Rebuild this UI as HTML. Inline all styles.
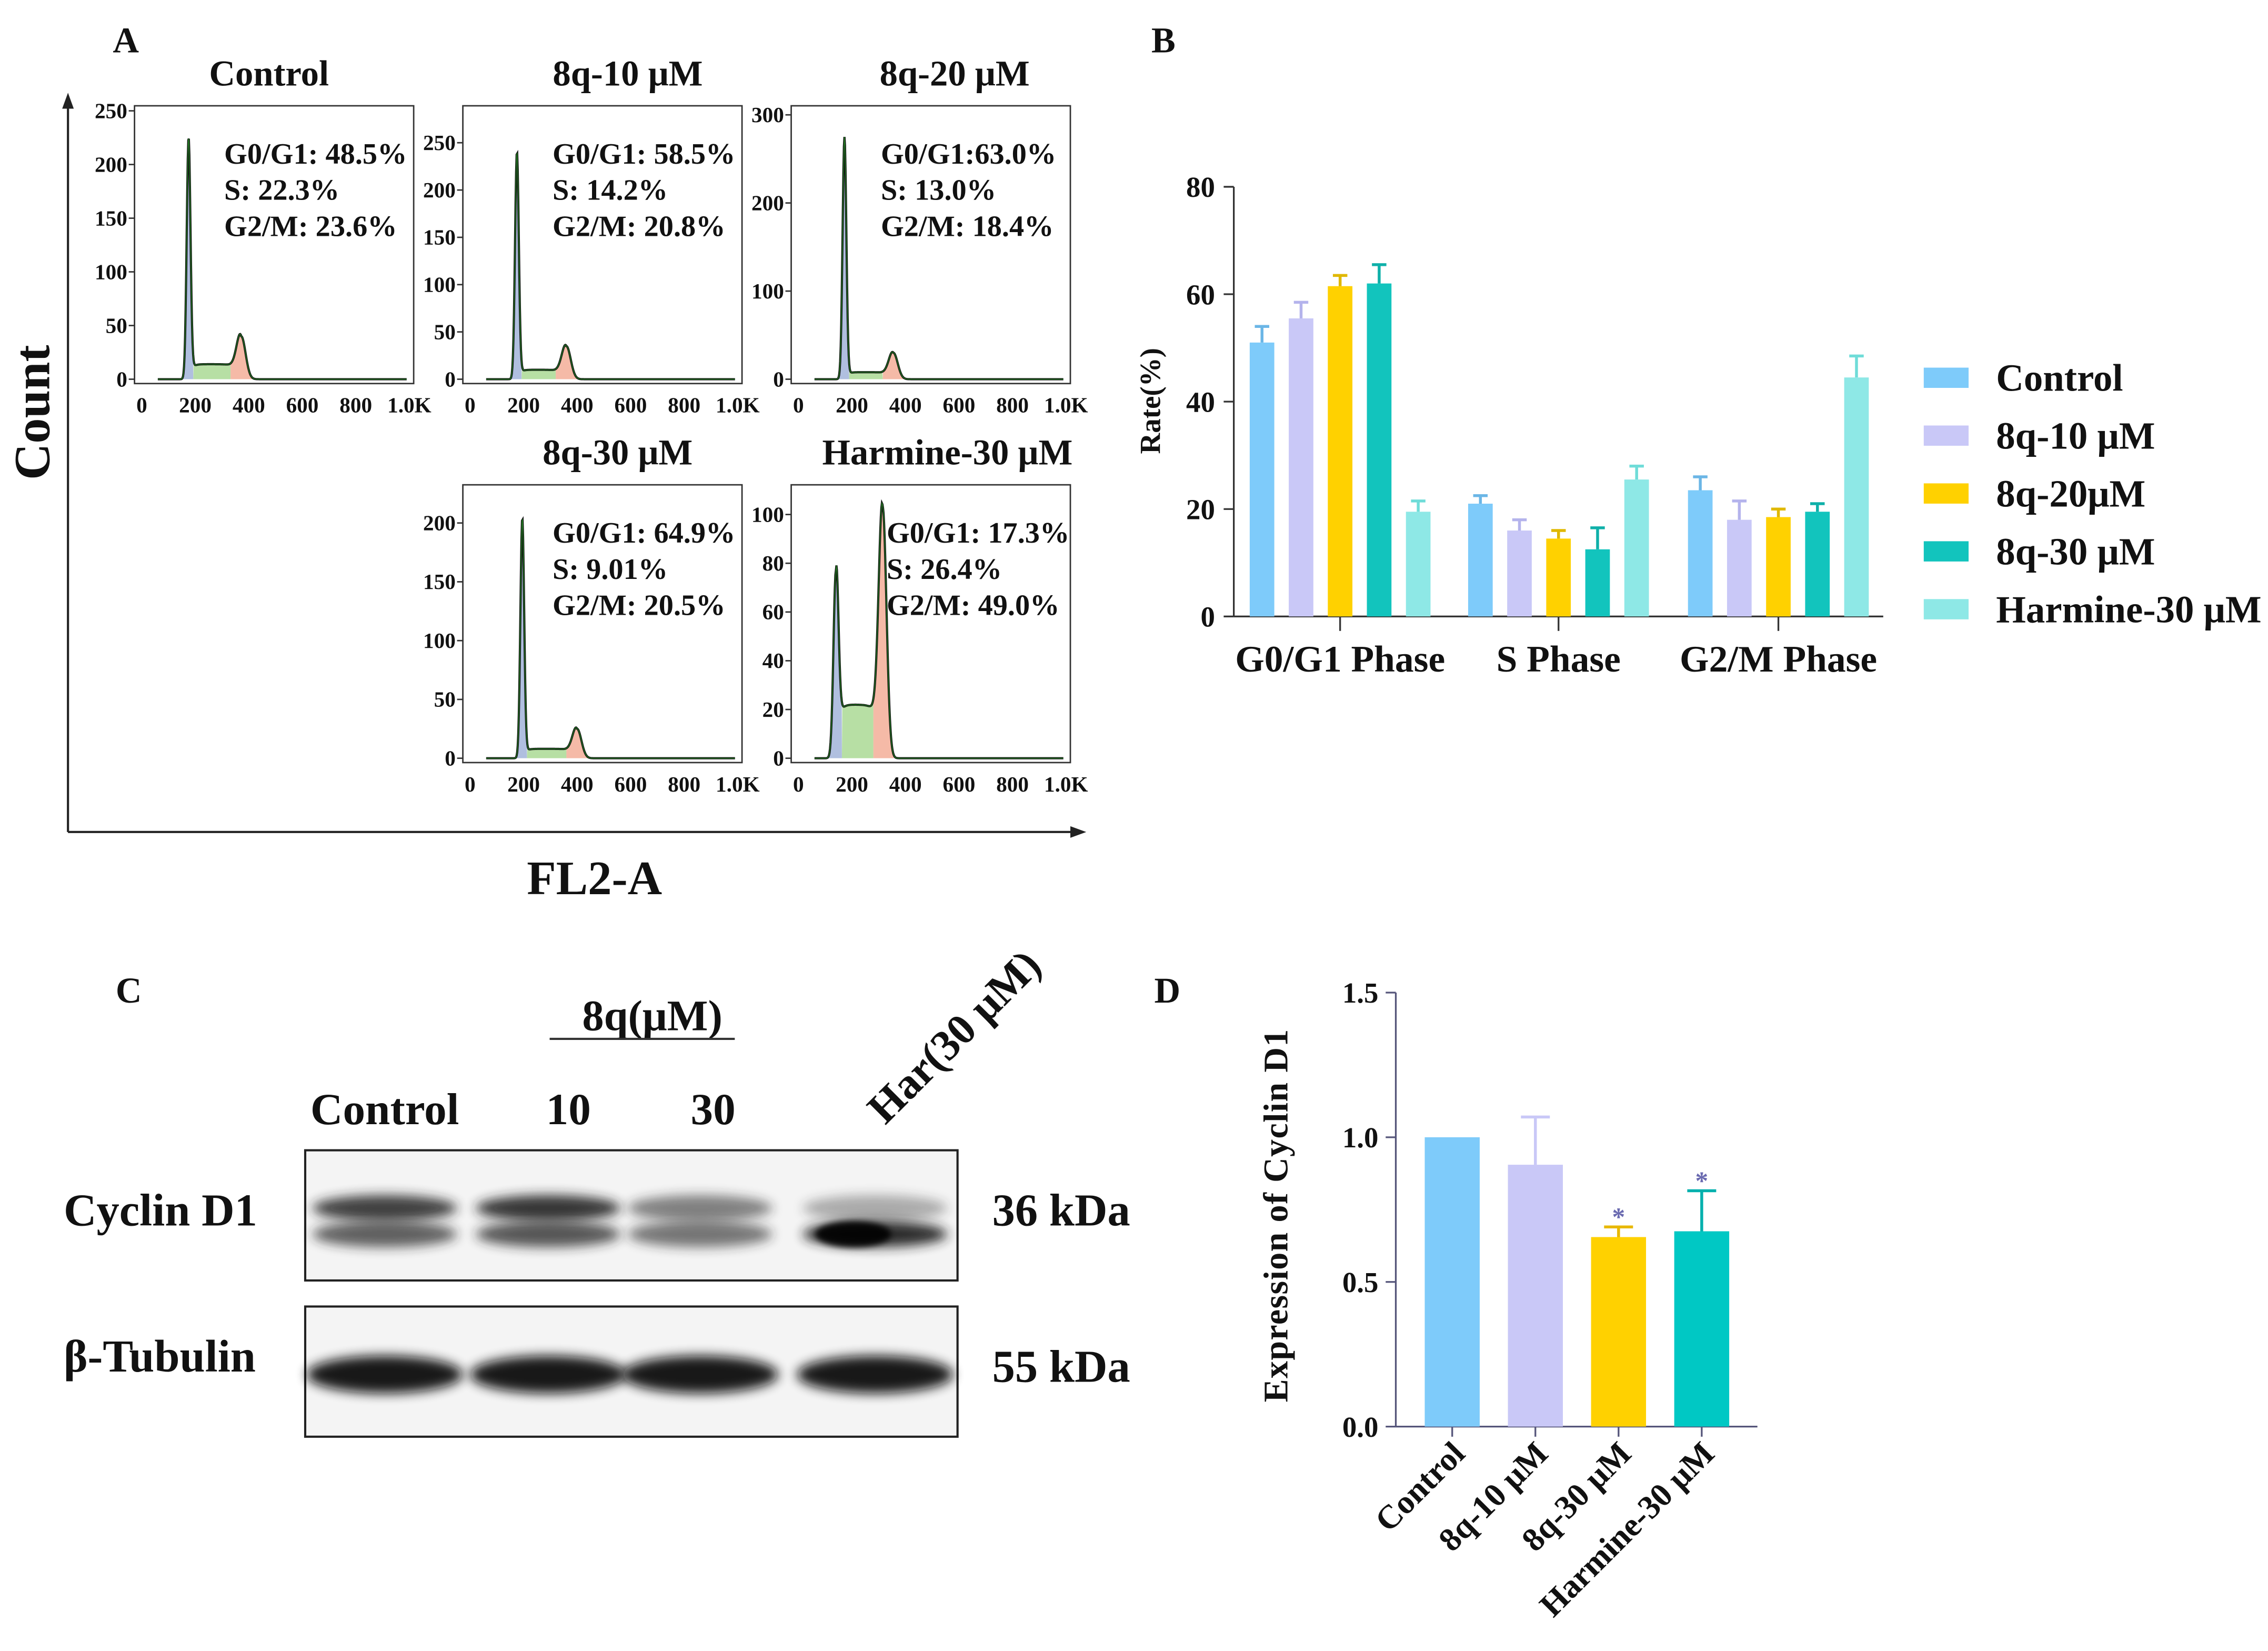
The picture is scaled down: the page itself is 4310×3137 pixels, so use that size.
<!DOCTYPE html>
<html><head><meta charset="utf-8"><style>
html,body{margin:0;padding:0;background:#fff}
svg{display:block}
text{font-family:"Liberation Serif",serif;font-weight:bold;fill:#111}
</style></head><body>
<svg id="fig" xmlns="http://www.w3.org/2000/svg" width="4310" height="3137" viewBox="0 0 1568 1141">
<defs>
<filter id="blur" x="-20%" y="-50%" width="140%" height="200%"><feGaussianBlur stdDeviation="4"/></filter>
<filter id="blur2" x="-20%" y="-50%" width="140%" height="200%"><feGaussianBlur stdDeviation="2"/></filter>
</defs>
<g id="panelA"></g>
<g id="panelB"></g>
<g id="panelC"></g>
<g id="panelD"></g>
</svg>
<script>
// ---------- Panel A data ----------
const histTitles = ["Control","8q-10 μM","8q-20 μM","8q-30 μM","Harmine-30 μM"];
const histG1Pos = [175,175,172,195,140];
const histG1Height = [225,240,275,204,77];
const histSLevel = [14,10,8,8,22];
const histG2Pos = [372,360,355,400,315];
const histG2Height = [40,35,30,25,103];
const histYTicks = [[0,50,100,150,200,250],[0,50,100,150,200,250],[0,100,200,300],[0,50,100,150,200],[0,20,40,60,80,100]];
const histStats = [["G0/G1: 48.5%","S: 22.3%","G2/M: 23.6%"],["G0/G1: 58.5%","S: 14.2%","G2/M: 20.8%"],["G0/G1:63.0%","S: 13.0%","G2/M: 18.4%"],["G0/G1: 64.9%","S: 9.01%","G2/M: 20.5%"],["G0/G1: 17.3%","S: 26.4%","G2/M: 49.0%"]];
const histXTicks = ["0","200","400","600","800","1.0K"];
// ---------- Panel B data ----------
const phaseCats = ["G0/G1 Phase","S Phase","G2/M Phase"];
const seriesNames = ["Control","8q-10 μM","8q-20μM","8q-30 μM","Harmine-30 μM"];
const seriesControl = [51,21,23.5];
const series8q10 = [55.5,16,18];
const series8q20 = [61.5,14.5,18.5];
const series8q30 = [62,12.5,19.5];
const seriesHarmine = [19.5,25.5,44.5];
const errControl = [3,1.5,2.5];
const err8q10 = [3,2,3.5];
const err8q20 = [2,1.5,1.5];
const err8q30 = [3.5,4,1.5];
const errHarmine = [2,2.5,4];
const bTicks = [0,20,40,60,80];
// ---------- Panel D data ----------
const dCats = ["Control","8q-10 μM","8q-30 μM","Harmine-30 μM"];
const dValues = [1.0,0.905,0.655,0.675];
const dErr = [0,0.165,0.035,0.14];
const dSig = [false,false,true,true];
const dTicks = [0,0.5,1.0,1.5];

const NS="http://www.w3.org/2000/svg";
function mk(parent,tag,attrs,txt){const e=document.createElementNS(NS,tag);for(const k in attrs)e.setAttribute(k,attrs[k]);if(txt!==undefined)e.textContent=txt;parent.appendChild(e);return e;}

// ---------- Panel A ----------
const A=document.getElementById('panelA');
let t=mk(A,'text',{x:78,y:36,'font-size':25},'A');

mk(A,'line',{x1:47,y1:575,x2:47,y2:70,stroke:'#222','stroke-width':1.5});
mk(A,'polygon',{points:'47,64 43,75 51,75',fill:'#222'});
mk(A,'line',{x1:47,y1:575,x2:744,y2:575,stroke:'#222','stroke-width':1.5});
mk(A,'polygon',{points:'751,575 740,571 740,579',fill:'#222'});
t=mk(A,'text',{x:0,y:0,'font-size':35,'text-anchor':'middle',transform:'translate(34,285) rotate(-90)'},'Count');

t=mk(A,'text',{x:411,y:618,'font-size':33,'text-anchor':'middle'},'FL2-A');


const boxes=[{x:93,y:73},{x:320,y:73},{x:547,y:73},{x:320,y:335},{x:547,y:335}];
const titleCx=[186,434,660,427,655];
const yMaxes=[252,286,307,230,111];
const BW=193,BH=192;
boxes.forEach((b,i)=>{
  const g=mk(A,'g',{});
  
  
  const x0=b.x+5, x1=b.x+BW-3, base=b.y+BH-3;
  const sx=v=>x0+(x1-x0)*v/1000;
  const sy=v=>base-(base-b.y-2)*v/yMaxes[i];
  mk(g,'rect',{x:b.x,y:b.y,width:BW,height:BH,fill:'#fff',stroke:'#333','stroke-width':1});
  const tt=mk(g,'text',{x:titleCx[i],y:b.y-14,'font-size':25,'text-anchor':'middle'},histTitles[i]);
  
  histYTicks[i].forEach(v=>{
    mk(g,'line',{x1:b.x-4,x2:b.x,y1:sy(v),y2:sy(v),stroke:'#333'});
    mk(g,'text',{x:b.x-5,y:sy(v)+5,'font-size':15,'text-anchor':'end'},v);
  });
  histXTicks.forEach((l,k)=>{
    const xx=sx(k*200);
    mk(g,'text',{x:xx,y:base+23,'font-size':15,'text-anchor':'middle'},l);
  });
  const s1=i==4?9:7, s2=i==4?14:16;
  const f=v=>histG1Height[i]*Math.exp(-((v-histG1Pos[i])**2)/(2*s1*s1))
    +histG2Height[i]*Math.exp(-((v-histG2Pos[i])**2)/(2*s2*s2))
    +((v>histG1Pos[i]&&v<histG2Pos[i])?histSLevel[i]*(1-Math.exp(-(v-histG1Pos[i])/10))*(1-Math.exp(-(histG2Pos[i]-v)/15)):0);
  const pts=[];for(let v=60;v<=990;v+=2)pts.push([v,f(v)]);
  function area(lo,hi,col){let d='M'+sx(lo)+','+base;pts.filter(p=>p[0]>=lo&&p[0]<=hi).forEach(p=>d+='L'+sx(p[0])+','+sy(p[1]));d+='L'+sx(hi)+','+base+'Z';mk(g,'path',{d,fill:col,opacity:0.75});}
  const a=histG1Pos[i]+2.5*s1, c=histG2Pos[i]-2.5*s2;
  area(histG1Pos[i]-3*s1,a,'#95a9d4');
  area(a,c,'#9fd486');
  area(c,histG2Pos[i]+3*s2,'#f2a38a');
  let d='';pts.forEach((p,k)=>d+=(k?'L':'M')+sx(p[0])+','+sy(p[1]));
  mk(g,'path',{d,fill:'none',stroke:'#111','stroke-width':1.5});
  mk(g,'path',{d,fill:'none',stroke:'#2a9a2a','stroke-width':0.6,opacity:0.7});
  histStats[i].forEach((s,k)=>{
    const sx0=i==4?b.x+66:b.x+62;
    mk(g,'text',{x:sx0,y:b.y+40+k*25,'font-size':20.5},s);
  });
});

// ---------- Panel B ----------
const B=document.getElementById('panelB');
t=mk(B,'text',{x:796,y:36,'font-size':25},'B');

const bx0=853, by0=426, by1=129;
const byS=v=>by0-(by0-by1)*v/80;
const allSeries=[seriesControl,series8q10,series8q20,series8q30,seriesHarmine];
const allErr=[errControl,err8q10,err8q20,err8q30,errHarmine];
const colors=['#7ecbfa','#c9c8f7','#ffd100','#12c4bd','#8ee8e6'];
const errCol=['#6bb6e6','#b4b3ec','#e0b800','#0fb0a9','#6fdcd8'];
mk(B,'line',{x1:bx0,x2:bx0,y1:by1,y2:by0,stroke:'#333','stroke-width':1.2});
mk(B,'line',{x1:bx0,x2:1302,y1:by0,y2:by0,stroke:'#333','stroke-width':1.2});
bTicks.forEach(v=>{mk(B,'line',{x1:bx0-7,x2:bx0,y1:byS(v),y2:byS(v),stroke:'#333','stroke-width':1.2});
  mk(B,'text',{x:bx0-13,y:byS(v)+7,'font-size':20,'text-anchor':'end'},v);});
t=mk(B,'text',{x:0,y:0,'font-size':20,'text-anchor':'middle',transform:'translate(802,277) rotate(-90)'},'Rate(%)');

const groupStart=[864,1015,1167], bw=17, step=27;
phaseCats.forEach((cat,gi)=>{
  const center=groupStart[gi]+2*step+bw/2;
  mk(B,'line',{x1:center,x2:center,y1:by0,y2:by0+10,stroke:'#333','stroke-width':1.2});
  t=mk(B,'text',{x:center,y:by0+38,'font-size':26,'text-anchor':'middle'},cat);
  
  allSeries.forEach((s,si)=>{
    const x=groupStart[gi]+si*step, v=s[gi], e=allErr[si][gi];
    const r=mk(B,'rect',{x,y:byS(v),width:bw,height:by0-byS(v),fill:colors[si]});
    
    mk(B,'line',{x1:x+bw/2,x2:x+bw/2,y1:byS(v),y2:byS(v+e),stroke:errCol[si],'stroke-width':2});
    mk(B,'line',{x1:x+bw/2-5,x2:x+bw/2+5,y1:byS(v+e),y2:byS(v+e),stroke:errCol[si],'stroke-width':2});
  });
});
seriesNames.forEach((n,si)=>{
  const y=261+si*40;
  const lg=mk(B,'g',{});
  mk(lg,'rect',{x:1330,y:y-7,width:31,height:14,fill:colors[si]});
  mk(lg,'text',{x:1380,y:y+9,'font-size':26.5},n);
});

// ---------- Panel C ----------
const C=document.getElementById('panelC');
t=mk(C,'text',{x:80,y:693,'font-size':25},'C');

mk(C,'text',{x:451,y:712,'font-size':30,'text-anchor':'middle'},'8q(μM)');
mk(C,'line',{x1:380,x2:508,y1:718,y2:718,stroke:'#333','stroke-width':1.5});
mk(C,'text',{x:266,y:777,'font-size':31,'text-anchor':'middle'},'Control');
mk(C,'text',{x:393,y:777,'font-size':31,'text-anchor':'middle'},'10');
mk(C,'text',{x:493,y:777,'font-size':31,'text-anchor':'middle'},'30');
mk(C,'text',{x:0,y:0,'font-size':30,transform:'translate(612,778) rotate(-45)'},'Har(30 μM)');
mk(C,'text',{x:44,y:847,'font-size':31.5},'Cyclin D1');
mk(C,'text',{x:44,y:948,'font-size':31.5},'β-Tubulin');
mk(C,'text',{x:686,y:847,'font-size':31.5},'36 kDa');
mk(C,'text',{x:686,y:955,'font-size':31.5},'55 kDa');
const blot1=mk(C,'g',{});
mk(blot1,'rect',{x:211,y:795,width:451,height:90,fill:'#f4f4f4',stroke:'#222','stroke-width':1.5});
const lanes=[266,379,484,605];
[[0.85,0.7],[0.9,0.75],[0.55,0.6],[0.35,0.95]].forEach((a,k)=>{
  mk(blot1,'ellipse',{cx:lanes[k],cy:835,rx:50,ry:9,fill:'#222',opacity:a[0],filter:'url(#blur)'});
  mk(blot1,'ellipse',{cx:lanes[k],cy:853,rx:50,ry:9,fill:'#222',opacity:a[1],filter:'url(#blur)'});
});
mk(blot1,'ellipse',{cx:590,cy:853,rx:26,ry:9,fill:'#000',opacity:0.9,filter:'url(#blur2)'});
const blot2=mk(C,'g',{});
mk(blot2,'rect',{x:211,y:903,width:451,height:90,fill:'#f4f4f4',stroke:'#222','stroke-width':1.5});
lanes.forEach(cx=>mk(blot2,'ellipse',{cx,cy:950,rx:54,ry:13,fill:'#111',opacity:0.95,filter:'url(#blur)'}));

// ---------- Panel D ----------
const D=document.getElementById('panelD');
t=mk(D,'text',{x:798,y:693,'font-size':25},'D');

const dx0=965, dy0=986, dy1=686;
const dyS=v=>dy0-(dy0-dy1)*v/1.5;
mk(D,'line',{x1:dx0,x2:dx0,y1:dy1,y2:dy0,stroke:'#55557a','stroke-width':1.2});
mk(D,'line',{x1:dx0,x2:1215,y1:dy0,y2:dy0,stroke:'#55557a','stroke-width':1.2});
dTicks.forEach(v=>{mk(D,'line',{x1:dx0-7,x2:dx0,y1:dyS(v),y2:dyS(v),stroke:'#55557a','stroke-width':1.2});
  mk(D,'text',{x:dx0-12,y:dyS(v)+7,'font-size':20,'text-anchor':'end'},v.toFixed(1));});
t=mk(D,'text',{x:0,y:0,'font-size':24,'text-anchor':'middle','letter-spacing':'0.5',transform:'translate(890,840) rotate(-90)'},'Expression of Cyclin D1');

const dCols=['#7ecbfa','#c9c8f7','#ffd100','#00c8c4'];
const dErrCol=['#7ecbfa','#c9c8f7','#e8b800','#00b0ad'];
dCats.forEach((c,i)=>{
  const x=985+i*57.5, w=38, v=dValues[i];
  const r=mk(D,'rect',{x,y:dyS(v),width:w,height:dy0-dyS(v),fill:dCols[i]});
  
  if(dErr[i]>0){
    mk(D,'line',{x1:x+w/2,x2:x+w/2,y1:dyS(v),y2:dyS(v+dErr[i]),stroke:dErrCol[i],'stroke-width':2});
    mk(D,'line',{x1:x+w/2-10,x2:x+w/2+10,y1:dyS(v+dErr[i]),y2:dyS(v+dErr[i]),stroke:dErrCol[i],'stroke-width':2});
  }
  if(dSig[i]) mk(D,'text',{x:x+w/2,y:dyS(v+dErr[i])-1,'font-size':18,'text-anchor':'middle',style:'fill:#6a6ab0'},'*');
  mk(D,'line',{x1:x+w/2,x2:x+w/2,y1:dy0,y2:dy0+7,stroke:'#55557a','stroke-width':1.2});
  const lt=mk(D,'text',{x:0,y:0,'font-size':23,'text-anchor':'end',transform:`translate(${x+w/2+10},${dy0+20}) rotate(-45)`},c);
  
});
</script>
</body></html>
